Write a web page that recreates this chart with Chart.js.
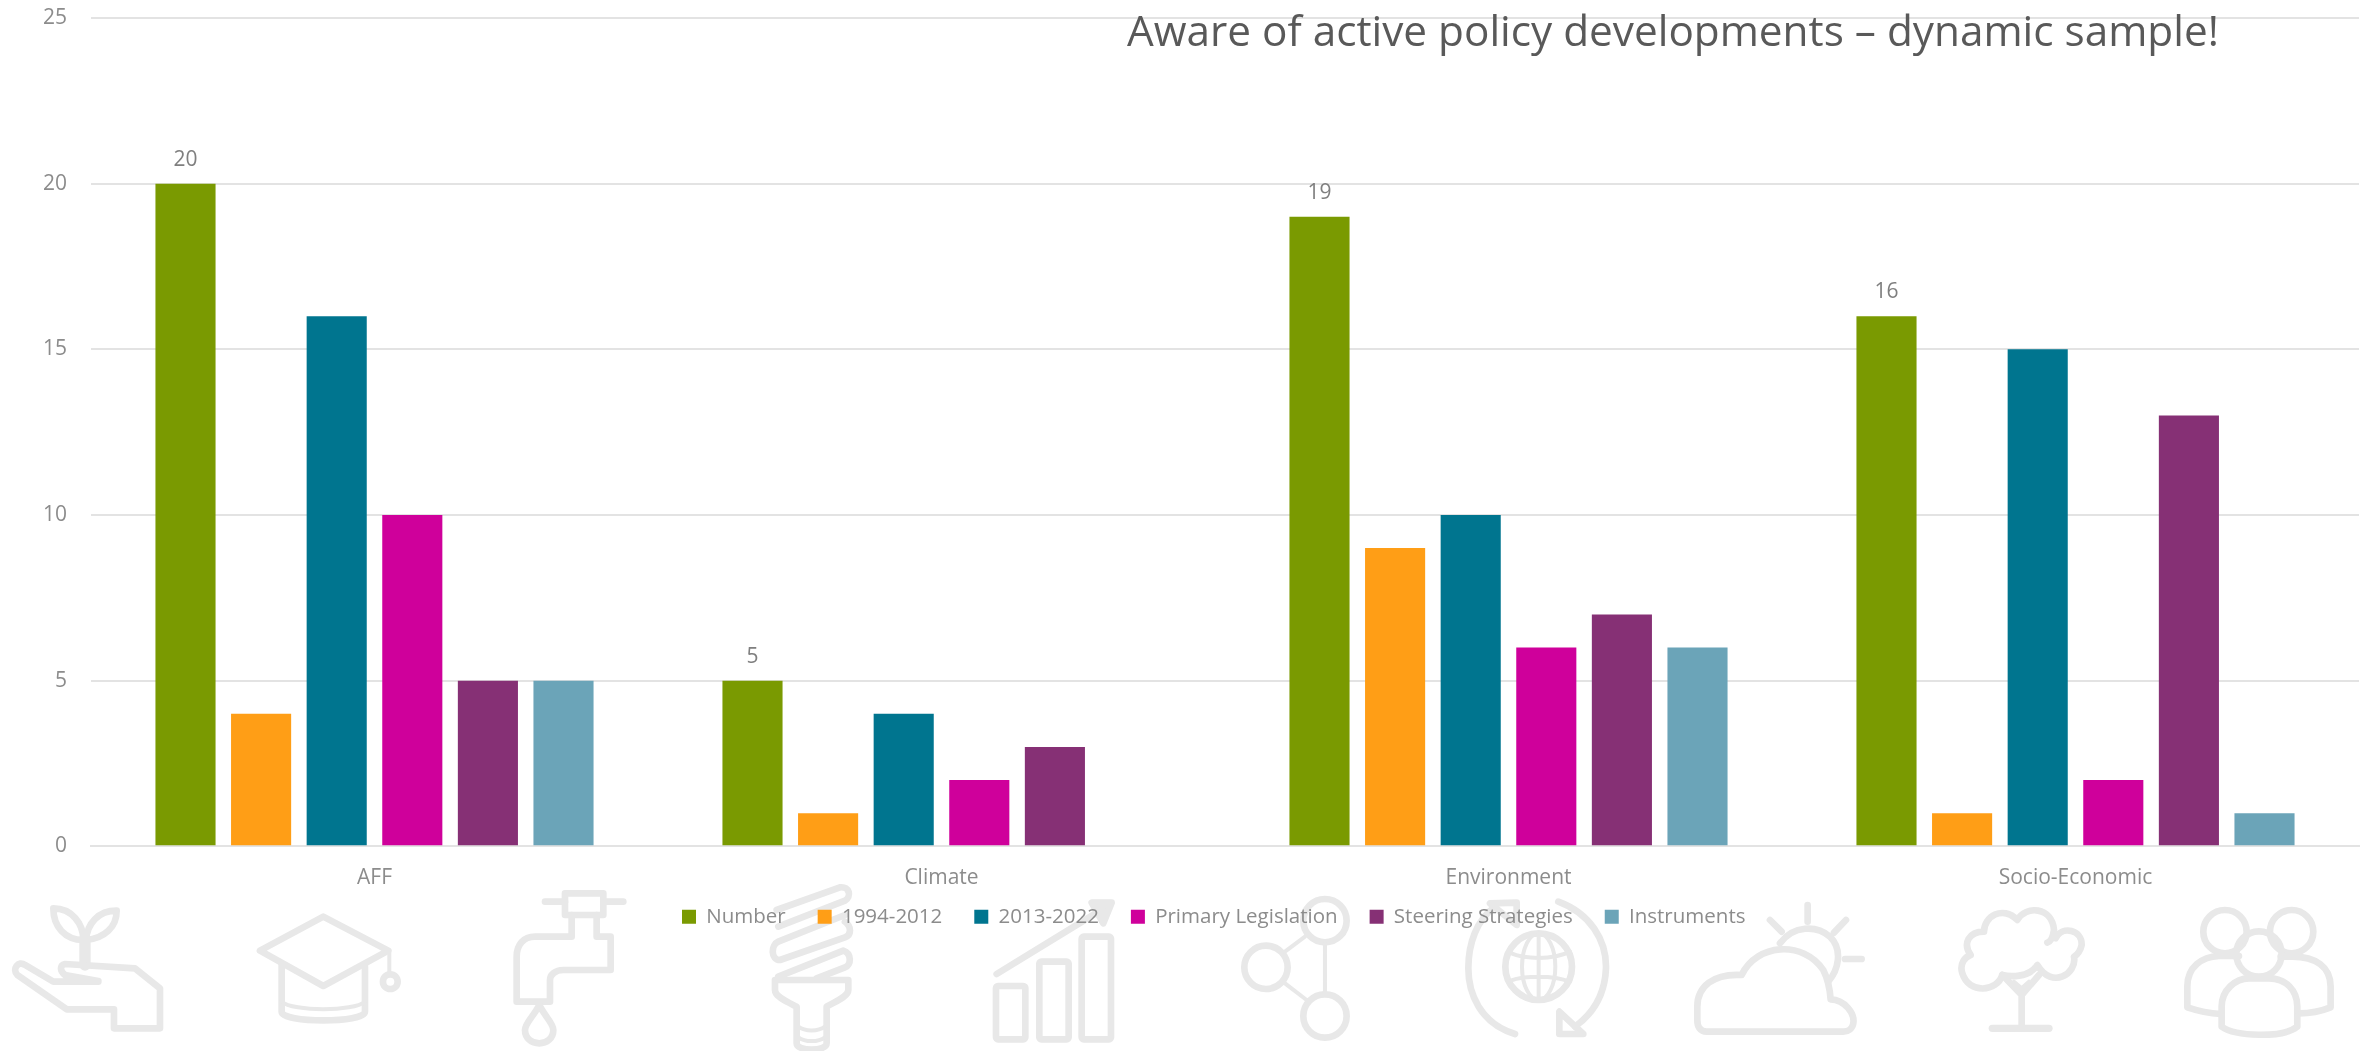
<!DOCTYPE html>
<html>
<head>
<meta charset="utf-8">
<title>Aware of active policy developments</title>
<script src="https://cdn.jsdelivr.net/npm/chart.js@4"></script>
<style>
  html, body { margin: 0; padding: 0; background: #fff; overflow: hidden; }
  #wrap { position: relative; width: 2369px; height: 1051px; }
  #icons { position: absolute; left: 0; top: 0; }
  #chart { position: absolute; left: 0; top: 0; }
  #icons path, #icons rect, #icons circle, #icons ellipse {
    fill: none; stroke: #e8e8e8; stroke-width: 20; stroke-linecap: round; stroke-linejoin: round;
  }
  #icons .thin { stroke-width: 12; }
  #icons .solid { fill: #e8e8e8; }
</style>
</head>
<body>
<div id="wrap">
  <!-- background pictograms, coordinates are in 3x units per group -->
  <svg id="icons" width="2369" height="1051" viewBox="0 0 2369 1051">
    <g transform="translate(0,880) scale(0.3333)">
      <path d="M160 85C215 85 250 130 250 180C195 180 160 140 160 85Z"/>
      <path d="M350 92C295 92 262 130 258 180C315 175 350 140 350 92Z"/>
      <path d="M255 185V255" style="stroke-width:34"/>
      <path d="M295 303L195 285C178 272 180 255 195 252L405 265L480 325V445H342V388H200L52 285C35 268 55 240 75 255L160 305H295"/>
      <path d="M970 110L1165 212L970 318L780 212Z"/>
      <path d="M845 255V395C845 430 1095 430 1095 395V260"/>
      <path d="M845 365C880 395 1060 395 1095 365" class="thin"/>
      <path d="M1168 212V285" class="thin"/>
      <circle cx="1171" cy="305" r="22"/>
    </g>
    <g transform="translate(500,880) scale(0.3333)">
      <path d="M135 65H195M310 65H370"/>
      <rect x="195" y="40" width="115" height="65"/>
      <path d="M215 105V170H105C70 170 50 195 50 230V365H150V300C150 285 165 270 190 270H332V170H290V105"/>
      <path d="M118 375C100 410 75 430 75 450C75 475 95 490 118 490C140 490 160 475 160 450C160 430 135 410 118 375Z"/>
      <path d="M835 140L1035 62C1055 50 1050 18 1020 22L830 90"/>
      <path d="M1035 125C1055 140 1055 165 1035 172L840 240C812 240 812 195 835 185L1035 105"/>
      <path d="M835 290L1030 212C1055 220 1055 255 1035 262L950 295"/>
      <path d="M825 300H1045V330C1045 350 1005 365 980 380V490C980 515 890 515 890 490V380C860 365 825 350 825 330Z"/>
      <path d="M895 440C915 455 955 455 975 440M895 472C915 487 955 487 975 472" class="thin"/>
    </g>
    <g transform="translate(960,880) scale(0.3333)">
      <rect x="108" y="318" width="88" height="160" rx="6"/>
      <rect x="238" y="245" width="88" height="233" rx="6"/>
      <rect x="365" y="170" width="88" height="308" rx="6"/>
      <path d="M110 282L440 80"/>
      <path d="M395 68H455L430 130Z" class="solid"/>
      <circle cx="1095" cy="122" r="65"/>
      <circle cx="918" cy="262" r="65"/>
      <circle cx="1095" cy="408" r="65"/>
      <path d="M1095 190V340M975 215L1035 170M975 310L1040 360" class="thin"/>
    </g>
    <g transform="translate(1440,880) scale(0.3333)">
      <circle cx="296" cy="260" r="100"/>
      <ellipse cx="296" cy="260" rx="50" ry="100" class="thin"/>
      <path d="M296 160V360M205 215C250 240 340 240 390 215M205 305C250 285 340 285 390 305" class="thin"/>
      <path d="M225 462C120 430 85 340 85 265C85 190 110 120 165 80"/>
      <path d="M150 70L230 68V135Z"/>
      <path d="M355 65C450 100 500 180 498 265C495 340 460 400 405 440"/>
      <path d="M358 395V462H430Z"/>
      <path d="M905 285C950 190 1090 180 1150 270C1165 300 1170 330 1172 358C1215 360 1245 400 1240 430C1238 445 1225 455 1210 455H800C780 455 772 440 772 420V380C772 320 820 280 905 285Z"/>
      <path d="M1020 190C1060 135 1130 135 1170 170C1210 210 1195 270 1165 305"/>
      <path d="M1103 75V125M990 120L1025 155M1218 120L1182 158M1215 237H1265"/>
    </g>
    <g transform="translate(1869,880) scale(0.3333)">
      <path d="M400 285C385 335 300 345 280 280C270 250 290 230 305 225C280 190 300 155 345 155C345 110 400 75 445 120C470 75 550 80 555 150C552 170 545 185 535 188M560 175C580 135 640 150 638 195C635 210 625 225 615 230C625 280 550 330 505 255C480 295 420 290 400 285"/>
      <path d="M400 285L458 345L510 285M458 345V435"/>
      <path d="M435 305L458 325L480 305" class="thin"/>
      <path d="M370 445H540" style="stroke-width:22"/>
      <circle cx="1068" cy="155" r="65"/>
      <circle cx="1268" cy="155" r="65"/>
      <circle cx="1170" cy="222" r="68"/>
      <path d="M1058 440V380C1058 330 1100 295 1140 295H1200C1250 295 1285 330 1285 380V440C1240 475 1100 470 1058 440Z"/>
      <path d="M1055 402C1020 400 985 392 955 382V320C955 260 1000 230 1050 228H1110"/>
      <path d="M1290 400C1320 400 1360 392 1385 382V320C1385 260 1340 230 1270 230H1235"/>
    </g>
  </svg>
  <canvas id="chart" width="2369" height="1051"></canvas>
</div>
<script>
const titleText = 'Aware of active policy developments \u2013 dynamic sample!';
const categories = ['AFF', 'Climate', 'Environment', 'Socio-Economic'];
const number = [20, 5, 19, 16];
const period1 = [4, 1, 9, 1];
const period2 = [16, 4, 10, 15];
const primaryLegislation = [10, 2, 6, 2];
const steeringStrategies = [5, 3, 7, 13];
const instruments = [5, null, 6, 1];
const yTicks = [0, 5, 10, 15, 20, 25];

const fontName = '"Open Sans", sans-serif';

// number labels over the green bars + the title, which sits on top of the plot
const extraText = {
    id: 'extraText',
    afterLayout(chart) {
        // legend is not centred in the original
        const legend = chart.legend;
        const pad = legend.options.labels.padding;
        legend.left = 682 - pad;
        legend.right = legend.left + legend.width;
        legend.top = 917 - pad - 10.5;
    },
    afterDraw(chart) {
        const ctx = chart.ctx;
        const meta = chart.getDatasetMeta(0);
        ctx.save();
        ctx.font = '21px ' + fontName;
        ctx.fillStyle = '#7f7f7f';
        ctx.textAlign = 'center';
        ctx.textBaseline = 'alphabetic';
        meta.data.forEach(function(bar, i) {
            ctx.fillText(number[i], bar.x, bar.y - 18);
        });
        ctx.font = '400 42.3px ' + fontName;
        ctx.fillStyle = '#595959';
        ctx.textAlign = 'left';
        ctx.fillText(titleText, 1127, 46);
        ctx.restore();
    }
};

new Chart(document.getElementById('chart'), {
    type: 'bar',
    data: {
        labels: categories,
        datasets: [
            { label: 'Number', data: number, backgroundColor: '#7a9a01' },
            { label: '1994-2012', data: period1, backgroundColor: '#ff9e16' },
            { label: '2013-2022', data: period2, backgroundColor: '#00758f' },
            { label: 'Primary Legislation', data: primaryLegislation, backgroundColor: '#cf009b' },
            { label: 'Steering Strategies', data: steeringStrategies, backgroundColor: '#863075' },
            { label: 'Instruments', data: instruments, backgroundColor: '#6ba4b8' }
        ]
    },
    options: {
        responsive: false,
        animation: false,
        datasets: { bar: { categoryPercentage: 0.8, barPercentage: 0.795 } },
        layout: { padding: { top: 18, right: 10, bottom: 87, left: 0 } },
        scales: {
            x: {
                grid: { display: false },
                border: { color: '#e3e3e3', width: 2 },
                ticks: { color: '#8c8c8c', font: { family: fontName, size: 21 }, padding: 11 }
            },
            y: {
                min: 0,
                max: 25,
                afterFit(scale) {
                    scale.width = 91;
                    scale.paddingTop = 0;
                    scale.paddingBottom = 0;
                },
                afterBuildTicks(scale) { scale.ticks = yTicks.map(v => ({ value: v })); },
                grid: { color: '#e3e3e3', lineWidth: 2, drawTicks: false },
                border: { display: false },
                ticks: { color: '#8c8c8c', font: { family: fontName, size: 21 }, padding: 24 }
            }
        },
        plugins: {
            legend: {
                position: 'bottom',
                align: 'start',
                labels: {
                    boxWidth: 14,
                    boxHeight: 14,
                    padding: 32,
                    color: '#8c8c8c',
                    font: { family: fontName, size: 20.5 }
                }
            },
            tooltip: { enabled: false }
        }
    },
    plugins: [extraText]
});
</script>
</body>
</html>
